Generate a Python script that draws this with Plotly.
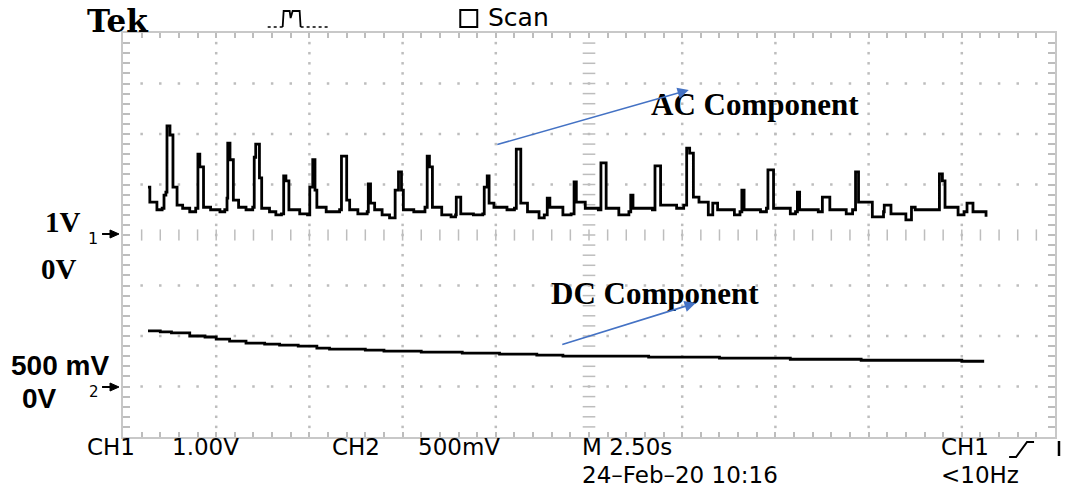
import plotly.graph_objects as go

# ---------------- data (seconds, volts) ----------------
ac_t = [0.67, 0.72, 0.91, 1.05, 1.10, 1.15, 1.18, 1.26, 1.31, 1.34,
        1.45, 1.60, 1.79, 1.95, 2.01, 2.06, 2.12, 2.16, 2.35, 2.60,
        2.73, 2.79, 2.81, 2.87, 2.92, 2.96, 3.10, 3.30, 3.48, 3.52,
        3.56, 3.62, 3.66, 3.72, 3.93, 4.10, 4.25, 4.31, 4.37, 4.41,
        4.45, 4.74, 4.95, 5.01, 5.09, 5.15, 5.20, 5.45, 5.81, 5.86,
        5.97, 6.00, 6.08, 6.30, 6.55, 6.58, 6.64, 6.75, 6.95, 7.15,
        7.30, 7.39, 7.47, 7.52, 7.80, 8.10, 8.16, 8.22, 8.26, 8.30,
        8.55, 8.80, 8.92, 8.94, 9.02, 9.06, 9.40, 9.65, 9.69, 9.77,
        9.82, 9.95, 10.30, 10.50, 10.55, 10.63, 10.67, 10.85, 11.16, 11.30,
        11.38, 11.45, 11.80, 12.02, 12.10, 12.16, 12.40, 12.75, 12.82, 12.92,
        12.96, 13.30, 13.57, 13.62, 13.68, 14.20, 14.27, 14.37, 14.42, 14.85,
        15.04, 15.12, 15.20, 15.25, 15.30, 15.45, 15.70, 15.82, 15.95, 16.40,
        16.55, 16.60, 16.66, 17.10, 17.26, 17.30, 17.40, 17.45, 17.90, 18.04,
        18.09, 18.15, 18.65, 18.76, 18.92, 18.96, 19.40, 19.57, 19.65, 19.73,
        20.10, 20.40, 20.42, 20.60, 21.00, 21.15, 21.25, 21.80, 21.90, 21.98,
        22.05, 22.40, 22.56, 22.64, 22.80, 23.15]
ac_v = [0.95, 0.65, 0.50, 0.53, 0.79, 0.85, 2.16, 1.98, 1.98, 0.95,
        0.59, 0.53, 0.46, 0.53, 1.60, 1.35, 1.35, 0.55, 0.50, 0.46,
        0.50, 0.73, 1.82, 1.49, 1.49, 0.69, 0.55, 0.50, 0.55, 1.54,
        1.80, 1.80, 1.13, 0.53, 0.46, 0.40, 0.42, 1.17, 1.07, 1.07,
        0.50, 0.42, 0.40, 0.95, 1.49, 0.89, 0.55, 0.46, 0.50, 1.56,
        1.56, 0.69, 0.50, 0.42, 0.46, 1.01, 0.63, 0.50, 0.40, 0.34,
        0.89, 1.25, 0.89, 0.50, 0.46, 0.55, 1.56, 1.35, 1.35, 0.55,
        0.40, 0.36, 0.40, 0.75, 0.75, 0.42, 0.40, 0.42, 0.95, 1.17,
        0.63, 0.55, 0.50, 0.53, 1.70, 1.70, 0.63, 0.46, 0.34, 0.40,
        0.73, 0.55, 0.40, 0.42, 1.05, 0.65, 0.53, 0.50, 1.43, 1.43,
        0.53, 0.40, 0.46, 0.79, 0.53, 0.50, 1.37, 1.37, 0.59, 0.53,
        0.59, 1.72, 1.62, 1.62, 0.75, 0.65, 0.40, 0.63, 0.50, 0.40,
        0.46, 0.89, 0.50, 0.46, 0.53, 1.29, 1.29, 0.53, 0.42, 0.46,
        0.85, 0.50, 0.46, 0.75, 0.75, 0.50, 0.42, 0.50, 1.25, 0.65,
        0.36, 0.46, 0.59, 0.42, 0.30, 0.55, 0.50, 0.50, 1.21, 1.07,
        0.55, 0.40, 0.46, 0.63, 0.46, 0.36]

dc_t = [0.67, 1.00, 1.30, 1.79, 2.20, 2.50, 2.86, 3.30, 3.80, 4.20,
        4.70, 5.20, 5.54, 6.00, 6.50, 7.00, 7.40, 8.00, 8.50, 9.10,
        9.60, 10.10, 10.60, 11.10, 11.80, 12.50, 13.20, 14.10, 15.00, 16.00,
        17.00, 17.90, 18.80, 19.80, 20.80, 21.80, 22.50, 23.10]
dc_v = [0.55, 0.54, 0.53, 0.50, 0.49, 0.47, 0.45, 0.43, 0.42, 0.41,
        0.40, 0.38, 0.37, 0.37, 0.36, 0.35, 0.35, 0.34, 0.34, 0.33,
        0.33, 0.32, 0.32, 0.31, 0.30, 0.30, 0.30, 0.29, 0.29, 0.28,
        0.28, 0.27, 0.27, 0.26, 0.26, 0.26, 0.25, 0.25]

assert len(ac_t) == len(ac_v) and len(dc_t) == len(dc_v)

SEC_PER_DIV = 2.5
CH1_V_PER_DIV = 1.0
CH2_V_PER_DIV = 0.5
CH1_GROUND_DIV = 0.0
CH2_GROUND_DIV = -3.0

status_top = ["Tek", "Scan"]
status_bottom = ["CH1", "1.00V", "CH2", "500mV", "M 2.50s", "CH1"]
status_bottom2 = ["24\u2013Feb\u201320 10:16", "<10Hz"]

# ---------------- layout geometry ----------------
W, H = 1065, 490
L, R, T, B = 123, 8, 33, 53
PW, PH = W - L - R, H - T - B


def px(x):
    return (x - L) / PW


def py(y):
    return (H - B - y) / PH


def path(points, close=False):
    s = "M " + " L ".join(f"{px(x):.5f},{py(y):.5f}" for x, y in points)
    return s + (" Z" if close else "")


GRID = "#bdbdbd"
BORDER = "#c8c8c8"

x_range = [0, 10 * SEC_PER_DIV]
y1_range = [(-4 - CH1_GROUND_DIV) * CH1_V_PER_DIV, (4 - CH1_GROUND_DIV) * CH1_V_PER_DIV]
y2_range = [(-4 - CH2_GROUND_DIV) * CH2_V_PER_DIV, (4 - CH2_GROUND_DIV) * CH2_V_PER_DIV]

fig = go.Figure()

# dotted graticule
gx, gy = [], []
for k in [1, 2, 3, 4, 6, 7, 8, 9]:
    for j in range(1, 40):
        gx.append(k * SEC_PER_DIV)
        gy.append(y1_range[0] + j * 0.2 * CH1_V_PER_DIV)
for k in [-3, -2, -1, 1, 2, 3]:
    for j in range(1, 50):
        gx.append(j * 0.2 * SEC_PER_DIV)
        gy.append(k * CH1_V_PER_DIV)
fig.add_trace(go.Scatter(x=gx, y=gy, mode="markers", hoverinfo="skip", showlegend=False,
                         marker=dict(symbol="square", size=2.5, color=GRID, line=dict(width=0))))
# centre axes with minor ticks
cx = [j * 0.2 * SEC_PER_DIV for j in range(1, 50)]
fig.add_trace(go.Scatter(x=cx, y=[0] * len(cx), mode="markers", hoverinfo="skip", showlegend=False,
                         marker=dict(symbol="line-ns", size=8, line=dict(width=1.5, color=GRID))))
cy = [y1_range[0] + j * 0.2 * CH1_V_PER_DIV for j in range(1, 40)]
fig.add_trace(go.Scatter(x=[5 * SEC_PER_DIV] * len(cy), y=cy, mode="markers", hoverinfo="skip",
                         showlegend=False,
                         marker=dict(symbol="line-ew", size=9, line=dict(width=1.5, color=GRID))))

# waveforms
fig.add_trace(go.Scatter(x=ac_t, y=ac_v, mode="lines", line=dict(color="black", width=2.8, shape="hv"),
                         showlegend=False, yaxis="y"))
fig.add_trace(go.Scatter(x=dc_t, y=dc_v, mode="lines", line=dict(color="black", width=2.8, shape="hv"),
                         showlegend=False, yaxis="y2"))

axis_common = dict(showgrid=False, zeroline=False, showline=True, linecolor=BORDER, linewidth=2,
                   mirror="ticks", ticks="inside", tickcolor=GRID, tickwidth=1.5,
                   showticklabels=False, fixedrange=True)
fig.update_layout(
    width=W, height=H,
    margin=dict(l=L, r=R, t=T, b=B),
    paper_bgcolor="white", plot_bgcolor="white",
    xaxis=dict(range=x_range, tickmode="linear", tick0=0, dtick=0.2 * SEC_PER_DIV, ticklen=5,
               **axis_common),
    yaxis=dict(range=y1_range, tickmode="linear", tick0=0, dtick=0.2 * CH1_V_PER_DIV, ticklen=7,
               **axis_common),
    yaxis2=dict(range=y2_range, overlaying="y", visible=False, fixedrange=True),
)

ann = []


def text(x, y, s, family, size, bold=False, anchor="left", yanchor="middle"):
    ann.append(dict(x=px(x), y=py(y), xref="paper", yref="paper", text=(f"<b>{s}</b>" if bold else s),
                    showarrow=False, xanchor=anchor, yanchor=yanchor, borderpad=0,
                    font=dict(family=family, size=size, color="black")))


SANS = "DejaVu Sans"
text(86, 21, status_top[0], "DejaVu Serif", 31, bold=True)
text(488, 18, status_top[1], SANS, 25)

text(44, 222, "1V", "Liberation Serif", 29, bold=True)
text(40, 269, "0V", "Liberation Serif", 29, bold=True)
text(10, 382, "500 mV", "Liberation Sans", 28, bold=True, yanchor="bottom")
text(21, 398, "0V", "Liberation Sans", 28, bold=True)
text(87, 238, "1", SANS, 16)
text(88, 382, "2", SANS, 15, yanchor="top")

text(651, 104, "AC Component", "Liberation Serif", 31, bold=True)
text(551, 293, "DC Component", "Liberation Serif", 31, bold=True)

bx = [86, 171, 331, 418, 582, 942]
for x, s in zip(bx, status_bottom):
    text(x, 461, s, SANS, 23, yanchor="bottom")
for x, s in zip([582, 942], status_bottom2):
    text(x, 461, s, SANS, 23, yanchor="top")

# annotation arrows (blue)
ann.append(dict(x=px(690), y=py(90), xref="paper", yref="paper", text="", showarrow=True,
                ax=497 - 690, ay=145 - 90, arrowhead=2, arrowsize=1.4, arrowwidth=1.6,
                arrowcolor="#4472C4", standoff=0))
ann.append(dict(x=px(697), y=py(303), xref="paper", yref="paper", text="", showarrow=True,
                ax=562 - 697, ay=345 - 303, arrowhead=2, arrowsize=1.4, arrowwidth=1.6,
                arrowcolor="#4472C4", standoff=0))
fig.update_layout(annotations=ann)

shapes = []
# Scan box
shapes.append(dict(type="path", xref="paper", yref="paper",
                   path=path([(461, 10), (478, 10), (478, 27), (461, 27)], close=True),
                   line=dict(color="black", width=2)))
# trigger icon
shapes.append(dict(type="path", xref="paper", yref="paper",
                   path=path([(268, 27), (283, 27)]), line=dict(color="black", width=1.5, dash="dot")))
shapes.append(dict(type="path", xref="paper", yref="paper",
                   path=path([(283, 27), (284, 11), (290, 11), (291, 18), (293, 11), (300, 11),
                              (301, 27)]),
                   line=dict(color="black", width=1.8)))
shapes.append(dict(type="path", xref="paper", yref="paper",
                   path=path([(301, 27), (330, 27)]), line=dict(color="black", width=1.5, dash="dot")))
# ground markers
for gyp in [234, 387]:
    shapes.append(dict(type="path", xref="paper", yref="paper",
                       path=path([(102, gyp), (112, gyp)]), line=dict(color="black", width=2)))
    shapes.append(dict(type="path", xref="paper", yref="paper",
                       path=path([(110, gyp - 4), (119, gyp), (110, gyp + 4)], close=True),
                       fillcolor="black", line=dict(color="black", width=1)))
# trigger slope symbol
shapes.append(dict(type="path", xref="paper", yref="paper",
                   path=path([(1011, 457), (1018, 457), (1029, 442), (1036, 442)]),
                   line=dict(color="black", width=2)))
shapes.append(dict(type="path", xref="paper", yref="paper",
                   path=path([(1061, 441), (1061, 456)]), line=dict(color="black", width=2.5)))
fig.update_layout(shapes=shapes)

fig.write_html("out.html")
